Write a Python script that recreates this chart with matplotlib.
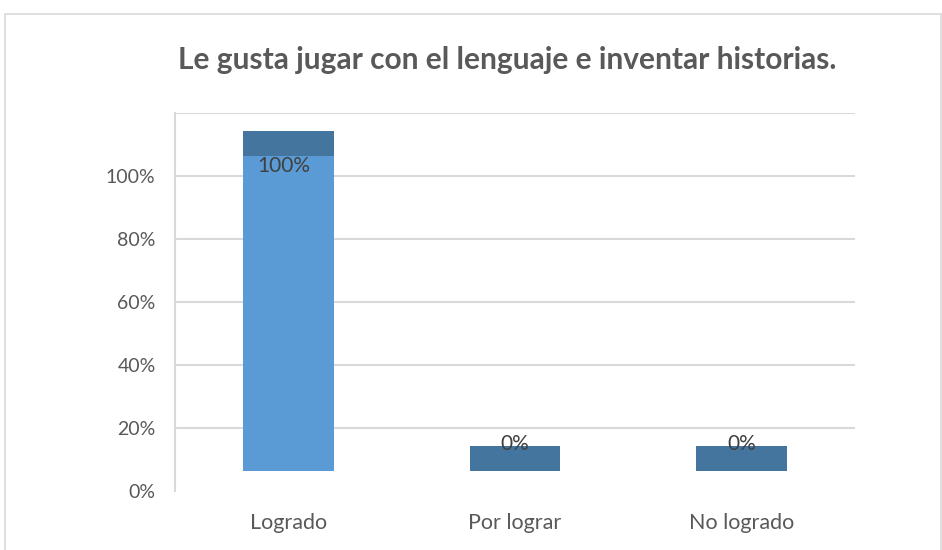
import numpy as np
import matplotlib.pyplot as plt
from matplotlib.patches import Rectangle

# datos
categorias = ['Logrado', 'Por lograr', 'No logrado']
valores = [100, 0, 0]
etiquetas = ['100%', '0%', '0%']
ticks_y = [0, 20, 40, 60, 80, 100]
ticks_y_txt = ['0%', '20%', '40%', '60%', '80%', '100%']

desp = 6.5    # el "piso" del efecto 3D
prof = 7.8    # altura de la cara superior
azul = '#5B9BD5'
azul_osc = '#44759F'
gris = '#D9D9D9'

plt.rcParams['font.family'] = ['Lato', 'DejaVu Sans']

fig = plt.figure(figsize=(9.42, 5.5), dpi=100)
fig.patches.append(Rectangle((5/942, -0.05), 936/942, 0.05 + 536/550, transform=fig.transFigure,
                             fill=False, edgecolor=gris, linewidth=1.2))
ax = fig.add_axes([175/942, 59/550, 680/942, 378/550])

x = np.arange(len(categorias))
for yy in ticks_y[1:] + [120]:
    ax.axhline(yy, color=gris, linewidth=1.5, zorder=0)

ax.bar(x, valores, width=0.4, bottom=desp, color=azul, zorder=2)
ax.bar(x, prof, width=0.4, bottom=np.array(valores) + desp, color=azul_osc, zorder=2)

for i in range(len(x)):
    if valores[i] > 0:
        ax.text(x[i] - 0.02, valores[i] + desp - 0.3, etiquetas[i], ha='center', va='top',
                fontsize=15, color='#404040', zorder=3)
    else:
        ax.text(x[i], valores[i] + desp + prof + 0.5, etiquetas[i], ha='center', va='center',
                fontsize=15, color='#404040', zorder=3)

ax.set_xlim(-0.5, 2.5)
ax.set_ylim(0, 120)
ax.set_xticks(x)
ax.set_xticklabels(categorias)
ax.set_yticks(ticks_y)
ax.set_yticklabels(ticks_y_txt)
ax.tick_params(axis='x', length=0, pad=16, labelsize=15.5, labelcolor='#595959')
ax.tick_params(axis='y', length=0, pad=14, labelsize=14, labelcolor='#595959')
for s in ['top', 'right', 'bottom']:
    ax.spines[s].set_visible(False)
ax.spines['left'].set_color(gris)
ax.spines['left'].set_linewidth(1.5)

fig.text(507/942, 1 - 60/550, 'Le gusta jugar con el lenguaje e inventar historias.',
         ha='center', va='center', fontsize=21.5, fontweight='bold', color='#595959')

fig.savefig('out.png', dpi=100)
